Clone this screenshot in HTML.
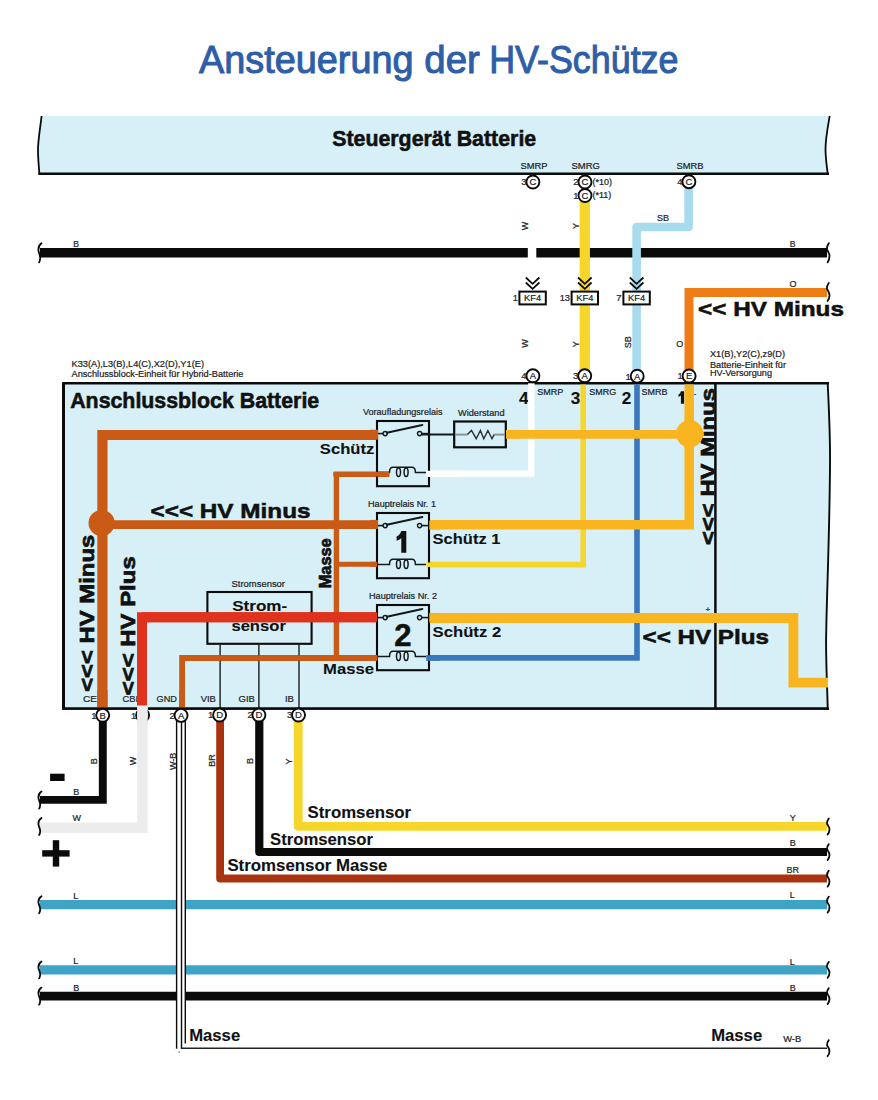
<!DOCTYPE html>
<html><head><meta charset="utf-8"><title>Ansteuerung der HV-Schütze</title>
<style>html,body{margin:0;padding:0;background:#fff;} svg{display:block;} text{font-family:"Liberation Sans", sans-serif;}</style>
</head><body>
<svg width="878" height="1100" viewBox="0 0 878 1100">
<rect x="0" y="0" width="878" height="1100" fill="#ffffff"/>
<text x="199" y="73" font-size="38" font-weight="400" fill="#2e5ea7" textLength="214.5" lengthAdjust="spacingAndGlyphs" stroke="#2e5ea7" stroke-width="1">Ansteuerung</text>
<text x="424.3" y="73" font-size="38" font-weight="400" fill="#2e5ea7" textLength="55.5" lengthAdjust="spacingAndGlyphs" stroke="#2e5ea7" stroke-width="1">der</text>
<text x="489.2" y="73" font-size="38" font-weight="400" fill="#2e5ea7" textLength="189.3" lengthAdjust="spacingAndGlyphs" stroke="#2e5ea7" stroke-width="1">HV-Schütze</text>
<path d="M41.6,116 L829.7,116 C827.2,130 825.3,140 825.5,150 C825.7,160 827,167 827.8,173.8 L39.4,173.8 C39,167 38,160 38,150 C38,140 40,130 41.6,116 Z" fill="#d7f0f8"/>
<path d="M41.6,116 C40,130 38,140 38,150 C38,160 39,167 39.4,174.8" stroke="#0b0b0b" stroke-width="1.8" fill="none" stroke-linejoin="miter" stroke-linecap="butt"/>
<path d="M829.7,116 C827.2,130 825.3,140 825.5,150 C825.7,160 827,167 827.8,174.8" stroke="#0b0b0b" stroke-width="1.8" fill="none" stroke-linejoin="miter" stroke-linecap="butt"/>
<line x1="38.5" y1="173.8" x2="829" y2="173.8" stroke="#0b0b0b" stroke-width="2.4" stroke-linecap="butt"/>
<text x="332.2" y="145.6" font-size="21.2" font-weight="700" fill="#111" stroke="#111" stroke-width="0.55" textLength="204" lengthAdjust="spacingAndGlyphs" >Steuergerät Batterie</text>
<text x="520.5" y="169" font-size="9.2" font-weight="400" fill="#1e2326" stroke="#1e2326" stroke-width="0.22" textLength="27" lengthAdjust="spacingAndGlyphs" >SMRP</text>
<text x="571.5" y="169" font-size="9.2" font-weight="400" fill="#1e2326" stroke="#1e2326" stroke-width="0.22" textLength="28.5" lengthAdjust="spacingAndGlyphs" >SMRG</text>
<text x="676.5" y="169.4" font-size="9.2" font-weight="400" fill="#1e2326" stroke="#1e2326" stroke-width="0.22" textLength="27" lengthAdjust="spacingAndGlyphs" >SMRB</text>
<line x1="40" y1="252.8" x2="527.8" y2="252.8" stroke="#0b0b0b" stroke-width="9.5" stroke-linecap="butt"/>
<line x1="536.3" y1="252.8" x2="827" y2="252.8" stroke="#0b0b0b" stroke-width="9.5" stroke-linecap="butt"/>
<path d="M41.5,243.3 C39.5,244.72500000000002 38.3,247.10000000000002 38.4,249.95000000000002 C38.5,252.8 40.3,255.175 40.2,258.02500000000003 C40.1,260.40000000000003 39.6,261.825 39.1,262.3" stroke="#0b0b0b" stroke-width="1.8" fill="none" stroke-linejoin="miter" stroke-linecap="round"/>
<path d="M828.8,243.3 C827.4,245.20000000000002 826.8,247.10000000000002 827.0,249.47500000000002 C828.2,251.85000000000002 829.6,253.75 829.5,256.125 C829.4,259.45 828.4,261.35 827.6,262.3" stroke="#0b0b0b" stroke-width="1.8" fill="none" stroke-linejoin="miter" stroke-linecap="round"/>
<text x="73.3" y="246.8" font-size="8.6" font-weight="400" fill="#1e2326" stroke="#1e2326" stroke-width="0.22" >B</text>
<text x="789.8" y="246.8" font-size="8.6" font-weight="400" fill="#1e2326" stroke="#1e2326" stroke-width="0.22" >B</text>
<line x1="584.8" y1="196" x2="584.8" y2="384" stroke="#f7d62b" stroke-width="10.3" stroke-linecap="butt"/>
<path d="M688.6,186 V227 H636.6 V384" stroke="#a8dcec" stroke-width="8.6" fill="none" stroke-linejoin="round" stroke-linecap="butt"/>
<path d="M689,384 V292.5 H827" stroke="#ef7d16" stroke-width="9" fill="none" stroke-linejoin="miter" stroke-linecap="butt"/>
<path d="M828.8,283 C827.4,284.8 826.8,286.6 827.0,288.85 C828.2,291.1 829.6,292.9 829.5,295.15 C829.4,298.3 828.4,300.1 827.6,301" stroke="#0b0b0b" stroke-width="1.8" fill="none" stroke-linejoin="miter" stroke-linecap="round"/>
<text x="789.5" y="286.5" font-size="9" font-weight="400" fill="#1e2326" stroke="#1e2326" stroke-width="0.22" >O</text>
<text x="657" y="221.2" font-size="9" font-weight="400" fill="#1e2326" stroke="#1e2326" stroke-width="0.22" >SB</text>
<text transform="translate(524.5,226) rotate(-90)" x="0" y="0" font-size="9" font-weight="400" fill="#1e2326" text-anchor="middle" dominant-baseline="central" stroke="#1e2326" stroke-width="0.22">W</text>
<text transform="translate(575.8,226) rotate(-90)" x="0" y="0" font-size="9" font-weight="400" fill="#1e2326" text-anchor="middle" dominant-baseline="central" stroke="#1e2326" stroke-width="0.22">Y</text>
<text transform="translate(524.5,343.6) rotate(-90)" x="0" y="0" font-size="9" font-weight="400" fill="#1e2326" text-anchor="middle" dominant-baseline="central" stroke="#1e2326" stroke-width="0.22">W</text>
<text transform="translate(575.8,344.2) rotate(-90)" x="0" y="0" font-size="9" font-weight="400" fill="#1e2326" text-anchor="middle" dominant-baseline="central" stroke="#1e2326" stroke-width="0.22">Y</text>
<text transform="translate(628.2,342.2) rotate(-90)" x="0" y="0" font-size="9" font-weight="400" fill="#1e2326" text-anchor="middle" dominant-baseline="central" stroke="#1e2326" stroke-width="0.22">SB</text>
<text x="676.2" y="346.6" font-size="9" font-weight="400" fill="#1e2326" stroke="#1e2326" stroke-width="0.22" >O</text>
<rect x="519.4" y="291.6" width="26.4" height="12.8" fill="#fff" stroke="#0b0b0b" stroke-width="2"/>
<text x="532.6" y="301" font-size="9.3" font-weight="400" fill="#1e2326" stroke="#1e2326" stroke-width="0.22" text-anchor="middle">KF4</text>
<text x="518" y="301" font-size="9.3" font-weight="400" fill="#1e2326" stroke="#1e2326" stroke-width="0.22" text-anchor="end">1</text>
<path d="M525.8000000000001,277.5 L532.6,283.8 L539.4,277.5 M525.8000000000001,282.5 L532.6,288.8 L539.4,282.5" stroke="#0b0b0b" stroke-width="1.8" fill="none" stroke-linejoin="miter" stroke-linecap="butt"/>
<rect x="571.5999999999999" y="291.6" width="26.4" height="12.8" fill="#fff" stroke="#0b0b0b" stroke-width="2"/>
<text x="584.8" y="301" font-size="9.3" font-weight="400" fill="#1e2326" stroke="#1e2326" stroke-width="0.22" text-anchor="middle">KF4</text>
<text x="570" y="301" font-size="9.3" font-weight="400" fill="#1e2326" stroke="#1e2326" stroke-width="0.22" text-anchor="end">13</text>
<path d="M578.0,277.5 L584.8,283.8 L591.5999999999999,277.5 M578.0,282.5 L584.8,288.8 L591.5999999999999,282.5" stroke="#0b0b0b" stroke-width="1.8" fill="none" stroke-linejoin="miter" stroke-linecap="butt"/>
<rect x="623.4" y="291.6" width="26.4" height="12.8" fill="#fff" stroke="#0b0b0b" stroke-width="2"/>
<text x="636.6" y="301" font-size="9.3" font-weight="400" fill="#1e2326" stroke="#1e2326" stroke-width="0.22" text-anchor="middle">KF4</text>
<text x="621.5" y="301" font-size="9.3" font-weight="400" fill="#1e2326" stroke="#1e2326" stroke-width="0.22" text-anchor="end">7</text>
<path d="M629.8000000000001,277.5 L636.6,283.8 L643.4,277.5 M629.8000000000001,282.5 L636.6,288.8 L643.4,282.5" stroke="#0b0b0b" stroke-width="1.8" fill="none" stroke-linejoin="miter" stroke-linecap="butt"/>
<circle cx="532.9" cy="182" r="6.5" fill="#fff" stroke="#0b0b0b" stroke-width="1.9"/>
<text x="532.9" y="185.4" font-size="9.5" font-weight="400" fill="#1e2326" stroke="#1e2326" stroke-width="0.22" text-anchor="middle">C</text>
<text x="526.5" y="185.4" font-size="9.5" font-weight="400" fill="#1e2326" stroke="#1e2326" stroke-width="0.22" text-anchor="end">3</text>
<circle cx="585" cy="182" r="6.5" fill="#fff" stroke="#0b0b0b" stroke-width="1.9"/>
<text x="585" y="185.4" font-size="9.5" font-weight="400" fill="#1e2326" stroke="#1e2326" stroke-width="0.22" text-anchor="middle">C</text>
<text x="578.6" y="185.4" font-size="9.5" font-weight="400" fill="#1e2326" stroke="#1e2326" stroke-width="0.22" text-anchor="end">2</text>
<circle cx="585" cy="195.5" r="6.5" fill="#fff" stroke="#0b0b0b" stroke-width="1.9"/>
<text x="585" y="198.9" font-size="9.5" font-weight="400" fill="#1e2326" stroke="#1e2326" stroke-width="0.22" text-anchor="middle">C</text>
<text x="578.6" y="198.9" font-size="9.5" font-weight="400" fill="#1e2326" stroke="#1e2326" stroke-width="0.22" text-anchor="end">1</text>
<circle cx="688.9" cy="181.7" r="6.5" fill="#fff" stroke="#0b0b0b" stroke-width="1.9"/>
<text x="688.9" y="185.1" font-size="9.5" font-weight="400" fill="#1e2326" stroke="#1e2326" stroke-width="0.22" text-anchor="middle">C</text>
<text x="682.5" y="185.1" font-size="9.5" font-weight="400" fill="#1e2326" stroke="#1e2326" stroke-width="0.22" text-anchor="end">4</text>
<text x="592.5" y="184.6" font-size="9" font-weight="400" fill="#1e2326" stroke="#1e2326" stroke-width="0.22" >(*10)</text>
<text x="592.5" y="198.2" font-size="9" font-weight="400" fill="#1e2326" stroke="#1e2326" stroke-width="0.22" >(*11)</text>
<text x="71.5" y="367.1" font-size="9.2" font-weight="400" fill="#1e2326" stroke="#1e2326" stroke-width="0.22" textLength="132.5" lengthAdjust="spacingAndGlyphs" >K33(A),L3(B),L4(C),X2(D),Y1(E)</text>
<text x="71.5" y="376.9" font-size="9.2" font-weight="400" fill="#1e2326" stroke="#1e2326" stroke-width="0.22" textLength="172" lengthAdjust="spacingAndGlyphs" >Anschlussblock-Einheit für Hybrid-Batterie</text>
<text x="710" y="356.5" font-size="9" font-weight="400" fill="#1e2326" stroke="#1e2326" stroke-width="0.22" textLength="75" lengthAdjust="spacingAndGlyphs" >X1(B),Y2(C),z9(D)</text>
<text x="710" y="367.9" font-size="9" font-weight="400" fill="#1e2326" stroke="#1e2326" stroke-width="0.22" textLength="76" lengthAdjust="spacingAndGlyphs" >Batterie-Einheit für</text>
<text x="710" y="375.9" font-size="9" font-weight="400" fill="#1e2326" stroke="#1e2326" stroke-width="0.22" textLength="62" lengthAdjust="spacingAndGlyphs" >HV-Versorgung</text>
<text x="698" y="315.9" font-size="21" font-weight="700" fill="#111" stroke="#111" stroke-width="0.55" textLength="146" lengthAdjust="spacingAndGlyphs" >&lt;&lt; HV Minus</text>
<path d="M63.5,383.3 L827.7,383.3 C829.5,420 830.2,450 830,465 C829.5,540 826.5,600 826.1,640 C826,670 827.5,690 827.7,708.7 L63.5,708.7 Z" fill="#d7f0f8"/>
<line x1="62.2" y1="383.3" x2="829" y2="383.3" stroke="#0b0b0b" stroke-width="2.5" stroke-linecap="butt"/>
<line x1="62.2" y1="708.7" x2="829" y2="708.7" stroke="#0b0b0b" stroke-width="2.3" stroke-linecap="butt"/>
<line x1="63.5" y1="383.3" x2="63.5" y2="708.7" stroke="#0b0b0b" stroke-width="3" stroke-linecap="butt"/>
<path d="M827.7,383.3 C829.5,420 830.2,450 830,465 C829.5,540 826.5,600 826.1,640 C826,670 827.5,690 827.7,709.8" stroke="#0b0b0b" stroke-width="1.9" fill="none" stroke-linejoin="miter" stroke-linecap="butt"/>
<line x1="715.4" y1="383.3" x2="715.4" y2="708.7" stroke="#0b0b0b" stroke-width="2.5" stroke-linecap="butt"/>
<text x="70.2" y="407.6" font-size="21.2" font-weight="700" fill="#111" stroke="#111" stroke-width="0.55" textLength="249" lengthAdjust="spacingAndGlyphs" >Anschlussblock Batterie</text>
<text x="519" y="403.8" font-size="17.2" font-weight="700" fill="#111" stroke="#111" stroke-width="0.1" >4</text>
<text x="570.8" y="403.8" font-size="17.2" font-weight="700" fill="#111" stroke="#111" stroke-width="0.1" >3</text>
<text x="621.8" y="403.8" font-size="17.2" font-weight="700" fill="#111" stroke="#111" stroke-width="0.1" >2</text>
<path d="M680.9,391.2 H684.1 V403.8 H680.9 V395.6 C680.2,396.2 679.4,396.6 678.5,396.9 V394.5 C679.6,394.1 680.4,393 680.9,391.2 Z" fill="#111"/>
<text x="537.3" y="395.2" font-size="8.8" font-weight="400" fill="#1e2326" stroke="#1e2326" stroke-width="0.22" textLength="26" lengthAdjust="spacingAndGlyphs" >SMRP</text>
<text x="589.3" y="395.2" font-size="8.8" font-weight="400" fill="#1e2326" stroke="#1e2326" stroke-width="0.22" textLength="27" lengthAdjust="spacingAndGlyphs" >SMRG</text>
<text x="641.5" y="395.2" font-size="8.8" font-weight="400" fill="#1e2326" stroke="#1e2326" stroke-width="0.22" textLength="26" lengthAdjust="spacingAndGlyphs" >SMRB</text>
<text x="693.5" y="396" font-size="8" font-weight="400" fill="#1e2326" stroke="#1e2326" stroke-width="0.22" >-</text>
<text x="705.5" y="612" font-size="8" font-weight="400" fill="#1e2326" stroke="#1e2326" stroke-width="0.22" >+</text>
<path d="M531.3,383.3 V473.6 H426.3" stroke="#ffffff" stroke-width="6.4" fill="none" stroke-linejoin="miter" stroke-linecap="butt"/>
<path d="M583.2,384.5 V564.6 H426.6" stroke="#f7d62b" stroke-width="5.6" fill="none" stroke-linejoin="miter" stroke-linecap="butt"/>
<path d="M637,384.5 V657.9 H426.4" stroke="#3a78bd" stroke-width="5.6" fill="none" stroke-linejoin="miter" stroke-linecap="butt"/>
<path d="M689.2,384.5 V524.8 H429.3" stroke="#f9b520" stroke-width="9.5" fill="none" stroke-linejoin="miter" stroke-linecap="butt"/>
<line x1="507" y1="434.3" x2="689.2" y2="434.3" stroke="#f9b520" stroke-width="8.8" stroke-linecap="butt"/>
<circle cx="689.7" cy="433.7" r="13.5" fill="#f9b520"/>
<path d="M429.3,618 H793.4 V682.6 H828" stroke="#f9b520" stroke-width="9.8" fill="none" stroke-linejoin="miter" stroke-linecap="butt"/>
<path d="M102.4,709 V435 H378" stroke="#c95b16" stroke-width="10.2" fill="none" stroke-linejoin="miter" stroke-linecap="butt"/>
<line x1="102.4" y1="524.6" x2="377" y2="524.6" stroke="#c95b16" stroke-width="8.8" stroke-linecap="butt"/>
<circle cx="101.6" cy="523" r="13.1" fill="#c95b16"/>
<path d="M389.3,474.3 H336.4 V658 " stroke="#c95b16" stroke-width="5.4" fill="none" stroke-linejoin="miter" stroke-linecap="butt"/>
<line x1="336.4" y1="564.3" x2="377" y2="564.3" stroke="#c95b16" stroke-width="5" stroke-linecap="butt"/>
<path d="M377,658 H182.1 V709" stroke="#c95b16" stroke-width="5.8" fill="none" stroke-linejoin="miter" stroke-linecap="butt"/>
<path d="M142,705.5 V617.3 H377" stroke="#e0331d" stroke-width="10" fill="none" stroke-linejoin="miter" stroke-linecap="butt"/>
<text transform="translate(86.3,613.3) rotate(-90)" x="0" y="0" font-size="21" font-weight="700" fill="#111" text-anchor="middle" dominant-baseline="central" stroke="#111" stroke-width="0.7" textLength="157" lengthAdjust="spacingAndGlyphs">&lt;&lt;&lt; HV Minus</text>
<text transform="translate(127.6,625.8) rotate(-90)" x="0" y="0" font-size="21" font-weight="700" fill="#111" text-anchor="middle" dominant-baseline="central" stroke="#111" stroke-width="0.7" textLength="139" lengthAdjust="spacingAndGlyphs">&lt;&lt;&lt; HV Plus</text>
<text transform="translate(325.4,563.3) rotate(-90)" x="0" y="0" font-size="15.8" font-weight="700" fill="#111" text-anchor="middle" dominant-baseline="central" stroke="#111" stroke-width="0.7" textLength="50" lengthAdjust="spacingAndGlyphs">Masse</text>
<text x="642.5" y="644.4" font-size="21" font-weight="700" fill="#111" stroke="#111" stroke-width="0.55" textLength="126.5" lengthAdjust="spacingAndGlyphs" >&lt;&lt; HV Plus</text>
<text x="150.5" y="518.1" font-size="21" font-weight="700" fill="#111" stroke="#111" stroke-width="0.55" textLength="160" lengthAdjust="spacingAndGlyphs" >&lt;&lt;&lt; HV Minus</text>
<text x="319.8" y="453.7" font-size="15.4" font-weight="700" fill="#111" stroke="#111" stroke-width="0.1" textLength="54.5" lengthAdjust="spacingAndGlyphs" >Schütz</text>
<text x="432.6" y="543.5" font-size="15.4" font-weight="700" fill="#111" stroke="#111" stroke-width="0.1" textLength="67.8" lengthAdjust="spacingAndGlyphs" >Schütz 1</text>
<text x="432.6" y="636.7" font-size="15.4" font-weight="700" fill="#111" stroke="#111" stroke-width="0.1" textLength="68.6" lengthAdjust="spacingAndGlyphs" >Schütz 2</text>
<text x="323" y="673.5" font-size="15" font-weight="700" fill="#111" stroke="#111" stroke-width="0.1" textLength="51" lengthAdjust="spacingAndGlyphs" >Masse</text>
<clipPath id="cp1"><rect x="690" y="383" width="24.5" height="200"/></clipPath>
<g clip-path="url(#cp1)">
<text transform="translate(707.5,466.5) rotate(-90)" x="0" y="0" font-size="21" font-weight="700" fill="#111" text-anchor="middle" dominant-baseline="central" stroke="#111" stroke-width="0.7" textLength="157" lengthAdjust="spacingAndGlyphs">&lt;&lt;&lt; HV Minus</text>
</g>
<circle cx="689.7" cy="433.7" r="13.5" fill="#f9b520"/>
<line x1="689.2" y1="420" x2="689.2" y2="448" stroke="#f9b520" stroke-width="9.5" stroke-linecap="butt"/>
<rect x="377" y="421" width="52" height="65.2" fill="none" stroke="#0b0b0b" stroke-width="2.1"/>
<text x="363" y="415" font-size="9" font-weight="400" fill="#1e2326" stroke="#1e2326" stroke-width="0.22" textLength="79.5" lengthAdjust="spacingAndGlyphs" >Voraufladungsrelais</text>
<line x1="377" y1="433.6" x2="383" y2="433.6" stroke="#16191b" stroke-width="1.6" stroke-linecap="butt"/>
<line x1="421.8" y1="433.6" x2="429" y2="433.6" stroke="#16191b" stroke-width="1.6" stroke-linecap="butt"/>
<circle cx="385.2" cy="433.6" r="2.1" fill="#d7f0f8" stroke="#16191b" stroke-width="1.4"/>
<circle cx="419.6" cy="433.6" r="2.1" fill="#d7f0f8" stroke="#16191b" stroke-width="1.4"/>
<line x1="386.8" y1="432.70000000000005" x2="422.3" y2="425.0" stroke="#16191b" stroke-width="2.1" stroke-linecap="round"/>
<path d="M377,472.4 H389.5 C389.5,468.9 390.5,467.29999999999995 393,467.29999999999995 H411.8 C414.2,467.29999999999995 415.4,468.9 415.4,472.4 H426" stroke="#16191b" stroke-width="1.5" fill="none" stroke-linejoin="miter" stroke-linecap="butt"/>
<ellipse cx="398.5" cy="472.29999999999995" rx="2" ry="4.2" fill="none" stroke="#16191b" stroke-width="1.5"/>
<ellipse cx="406.1" cy="472.29999999999995" rx="2" ry="4.2" fill="none" stroke="#16191b" stroke-width="1.5"/>
<rect x="377" y="513" width="52" height="65.2" fill="none" stroke="#0b0b0b" stroke-width="2.1"/>
<text x="368" y="507" font-size="9" font-weight="400" fill="#1e2326" stroke="#1e2326" stroke-width="0.22" textLength="68" lengthAdjust="spacingAndGlyphs" >Hauptrelais Nr. 1</text>
<line x1="377" y1="525.6" x2="383" y2="525.6" stroke="#16191b" stroke-width="1.6" stroke-linecap="butt"/>
<line x1="421.8" y1="525.6" x2="429" y2="525.6" stroke="#16191b" stroke-width="1.6" stroke-linecap="butt"/>
<circle cx="385.2" cy="525.6" r="2.1" fill="#d7f0f8" stroke="#16191b" stroke-width="1.4"/>
<circle cx="419.6" cy="525.6" r="2.1" fill="#d7f0f8" stroke="#16191b" stroke-width="1.4"/>
<line x1="386.8" y1="524.7" x2="422.3" y2="517.0" stroke="#16191b" stroke-width="2.1" stroke-linecap="round"/>
<path d="M377,564.4 H389.5 C389.5,560.9 390.5,559.3 393,559.3 H411.8 C414.2,559.3 415.4,560.9 415.4,564.4 H426" stroke="#16191b" stroke-width="1.5" fill="none" stroke-linejoin="miter" stroke-linecap="butt"/>
<ellipse cx="398.5" cy="564.3" rx="2" ry="4.2" fill="none" stroke="#16191b" stroke-width="1.5"/>
<ellipse cx="406.1" cy="564.3" rx="2" ry="4.2" fill="none" stroke="#16191b" stroke-width="1.5"/>
<path d="M401.3,530.9 H406.3 V552.8 H401.3 V538.3 C399.9,539.4 398.4,540.2 396.6,540.8 V536.4 C398.6,535.6 400.4,533.6 401.3,530.9 Z" fill="#111"/>
<rect x="377" y="605" width="52" height="65.2" fill="none" stroke="#0b0b0b" stroke-width="2.1"/>
<text x="369" y="599" font-size="9" font-weight="400" fill="#1e2326" stroke="#1e2326" stroke-width="0.22" textLength="68" lengthAdjust="spacingAndGlyphs" >Hauptrelais Nr. 2</text>
<line x1="377" y1="617.6" x2="383" y2="617.6" stroke="#16191b" stroke-width="1.6" stroke-linecap="butt"/>
<line x1="421.8" y1="617.6" x2="429" y2="617.6" stroke="#16191b" stroke-width="1.6" stroke-linecap="butt"/>
<circle cx="385.2" cy="617.6" r="2.1" fill="#d7f0f8" stroke="#16191b" stroke-width="1.4"/>
<circle cx="419.6" cy="617.6" r="2.1" fill="#d7f0f8" stroke="#16191b" stroke-width="1.4"/>
<line x1="386.8" y1="616.7" x2="422.3" y2="609.0" stroke="#16191b" stroke-width="2.1" stroke-linecap="round"/>
<path d="M377,656.4 H389.5 C389.5,652.9 390.5,651.3 393,651.3 H411.8 C414.2,651.3 415.4,652.9 415.4,656.4 H426" stroke="#16191b" stroke-width="1.5" fill="none" stroke-linejoin="miter" stroke-linecap="butt"/>
<ellipse cx="398.5" cy="656.3" rx="2" ry="4.2" fill="none" stroke="#16191b" stroke-width="1.5"/>
<ellipse cx="406.1" cy="656.3" rx="2" ry="4.2" fill="none" stroke="#16191b" stroke-width="1.5"/>
<text x="402.9" y="646.4" font-size="31" font-weight="700" fill="#111" stroke="#111" stroke-width="0.55" text-anchor="middle">2</text>
<line x1="370" y1="434.7" x2="378.2" y2="434.7" stroke="#c95b16" stroke-width="9.9" stroke-linecap="butt"/>
<line x1="333.3" y1="474.2" x2="389.3" y2="474.2" stroke="#c95b16" stroke-width="4.6" stroke-linecap="butt"/>
<line x1="426.3" y1="473.8" x2="460" y2="473.8" stroke="#ffffff" stroke-width="6.3" stroke-linecap="butt"/>
<line x1="370" y1="524.4" x2="378" y2="524.4" stroke="#c95b16" stroke-width="9" stroke-linecap="butt"/>
<line x1="429.3" y1="525.1" x2="440" y2="525.1" stroke="#f9b520" stroke-width="9.1" stroke-linecap="butt"/>
<line x1="370" y1="564.3" x2="377.2" y2="564.3" stroke="#c95b16" stroke-width="5" stroke-linecap="butt"/>
<line x1="426.6" y1="564.7" x2="440" y2="564.7" stroke="#f7d62b" stroke-width="4.6" stroke-linecap="butt"/>
<line x1="370" y1="617.1" x2="377" y2="617.1" stroke="#e0331d" stroke-width="9.6" stroke-linecap="butt"/>
<line x1="429.3" y1="617.7" x2="440" y2="617.7" stroke="#f9b520" stroke-width="9.6" stroke-linecap="butt"/>
<line x1="370" y1="658" x2="377.5" y2="658" stroke="#c95b16" stroke-width="5.5" stroke-linecap="butt"/>
<line x1="426.4" y1="658" x2="440" y2="658" stroke="#3a78bd" stroke-width="5.5" stroke-linecap="butt"/>
<line x1="421.8" y1="434.6" x2="454" y2="434.6" stroke="#16191b" stroke-width="2" stroke-linecap="butt"/>
<rect x="454.2" y="421.5" width="51.6" height="25.8" fill="none" stroke="#0b0b0b" stroke-width="2.2"/>
<line x1="455" y1="434.6" x2="467.4" y2="434.6" stroke="#8a9498" stroke-width="2" stroke-linecap="butt"/>
<line x1="494" y1="434.6" x2="505" y2="434.6" stroke="#8a9498" stroke-width="2" stroke-linecap="butt"/>
<path d="M467.4,434.6 L471.5,430.5 L476.2,438.7 L480.4,430.5 L483.8,438.7 L487.9,430.5 L492,438.7 L494,434.6" stroke="#2a3135" stroke-width="1.4" fill="none" stroke-linejoin="miter" stroke-linecap="butt"/>
<text x="458" y="415.8" font-size="9" font-weight="400" fill="#1e2326" stroke="#1e2326" stroke-width="0.22" textLength="46.5" lengthAdjust="spacingAndGlyphs" >Widerstand</text>
<line x1="506" y1="434.3" x2="520" y2="434.3" stroke="#f9b520" stroke-width="8.8" stroke-linecap="butt"/>
<rect x="207.4" y="592" width="104.2" height="51.8" fill="none" stroke="#0b0b0b" stroke-width="2.1"/>
<text x="231.5" y="586.8" font-size="9.2" font-weight="400" fill="#1e2326" stroke="#1e2326" stroke-width="0.22" textLength="53.5" lengthAdjust="spacingAndGlyphs" >Stromsensor</text>
<text x="232.2" y="611" font-size="15" font-weight="700" fill="#111" stroke="#111" stroke-width="0.1" textLength="55" lengthAdjust="spacingAndGlyphs" >Strom-</text>
<text x="231.4" y="631" font-size="15" font-weight="700" fill="#111" stroke="#111" stroke-width="0.1" textLength="54.5" lengthAdjust="spacingAndGlyphs" >sensor</text>
<line x1="220.1" y1="644.7" x2="220.1" y2="709" stroke="#0b0b0b" stroke-width="1.3" stroke-linecap="butt"/>
<line x1="258.9" y1="644.7" x2="258.9" y2="709" stroke="#0b0b0b" stroke-width="1.3" stroke-linecap="butt"/>
<line x1="299" y1="644.7" x2="299" y2="709" stroke="#0b0b0b" stroke-width="1.3" stroke-linecap="butt"/>
<line x1="142" y1="617.3" x2="376" y2="617.3" stroke="#e0331d" stroke-width="10" stroke-linecap="butt"/>
<line x1="182.1" y1="658" x2="377" y2="658" stroke="#c95b16" stroke-width="5.6" stroke-linecap="butt"/>
<text x="83" y="702.3" font-size="8.8" font-weight="400" fill="#1e2326" stroke="#1e2326" stroke-width="0.22" textLength="14" lengthAdjust="spacingAndGlyphs" >CE</text>
<text x="122.5" y="702.3" font-size="8.8" font-weight="400" fill="#1e2326" stroke="#1e2326" stroke-width="0.22" textLength="15.5" lengthAdjust="spacingAndGlyphs" >CBI</text>
<text x="156.6" y="702.3" font-size="8.8" font-weight="400" fill="#1e2326" stroke="#1e2326" stroke-width="0.22" textLength="20.3" lengthAdjust="spacingAndGlyphs" >GND</text>
<text x="200.7" y="702.3" font-size="8.8" font-weight="400" fill="#1e2326" stroke="#1e2326" stroke-width="0.22" textLength="15.2" lengthAdjust="spacingAndGlyphs" >VIB</text>
<text x="238.5" y="702.3" font-size="8.8" font-weight="400" fill="#1e2326" stroke="#1e2326" stroke-width="0.22" textLength="16.4" lengthAdjust="spacingAndGlyphs" >GIB</text>
<text x="284.9" y="702.3" font-size="8.8" font-weight="400" fill="#1e2326" stroke="#1e2326" stroke-width="0.22" textLength="9" lengthAdjust="spacingAndGlyphs" >IB</text>
<line x1="102.4" y1="690" x2="102.4" y2="709" stroke="#c95b16" stroke-width="10.4" stroke-linecap="butt"/>
<line x1="142" y1="690" x2="142" y2="705.5" stroke="#e0331d" stroke-width="10" stroke-linecap="butt"/>
<line x1="182.1" y1="690" x2="182.1" y2="709" stroke="#c95b16" stroke-width="5.8" stroke-linecap="butt"/>
<line x1="62.2" y1="708.7" x2="137" y2="708.7" stroke="#0b0b0b" stroke-width="2.3" stroke-linecap="butt"/>
<line x1="148" y1="708.7" x2="829" y2="708.7" stroke="#0b0b0b" stroke-width="2.3" stroke-linecap="butt"/>
<line x1="40" y1="904.7" x2="827" y2="904.7" stroke="#3fa3c6" stroke-width="9.3" stroke-linecap="butt"/>
<line x1="40" y1="969.9" x2="827" y2="969.9" stroke="#3fa3c6" stroke-width="9.3" stroke-linecap="butt"/>
<line x1="40" y1="996.1" x2="827" y2="996.1" stroke="#0b0b0b" stroke-width="8.8" stroke-linecap="butt"/>
<path d="M41.5,896.2 C39.5,897.475 38.3,899.6 38.4,902.1500000000001 C38.5,904.7 40.3,906.825 40.2,909.375 C40.1,911.5 39.6,912.7750000000001 39.1,913.2" stroke="#0b0b0b" stroke-width="1.8" fill="none" stroke-linejoin="miter" stroke-linecap="round"/>
<path d="M828.8,896.7 C827.4,898.3000000000001 826.8,899.9000000000001 827.0,901.9000000000001 C828.2,903.9000000000001 829.6,905.5 829.5,907.5 C829.4,910.3000000000001 828.4,911.9000000000001 827.6,912.7" stroke="#0b0b0b" stroke-width="1.8" fill="none" stroke-linejoin="miter" stroke-linecap="round"/>
<path d="M41.5,961.4 C39.5,962.675 38.3,964.8 38.4,967.35 C38.5,969.9 40.3,972.025 40.2,974.5749999999999 C40.1,976.6999999999999 39.6,977.975 39.1,978.4" stroke="#0b0b0b" stroke-width="1.8" fill="none" stroke-linejoin="miter" stroke-linecap="round"/>
<path d="M828.8,961.9 C827.4,963.5 826.8,965.1 827.0,967.1 C828.2,969.1 829.6,970.6999999999999 829.5,972.6999999999999 C829.4,975.5 828.4,977.1 827.6,977.9" stroke="#0b0b0b" stroke-width="1.8" fill="none" stroke-linejoin="miter" stroke-linecap="round"/>
<path d="M41.5,987.6 C39.5,988.875 38.3,991.0 38.4,993.5500000000001 C38.5,996.1 40.3,998.225 40.2,1000.775 C40.1,1002.9 39.6,1004.1750000000001 39.1,1004.6" stroke="#0b0b0b" stroke-width="1.8" fill="none" stroke-linejoin="miter" stroke-linecap="round"/>
<path d="M828.8,988.1 C827.4,989.7 826.8,991.3000000000001 827.0,993.3000000000001 C828.2,995.3000000000001 829.6,996.9 829.5,998.9 C829.4,1001.7 828.4,1003.3000000000001 827.6,1004.1" stroke="#0b0b0b" stroke-width="1.8" fill="none" stroke-linejoin="miter" stroke-linecap="round"/>
<path d="M102.8,720 V799.9 H40" stroke="#0b0b0b" stroke-width="7.9" fill="none" stroke-linejoin="miter" stroke-linecap="butt"/>
<path d="M41.5,791.5 C39.5,792.775 38.3,794.9 38.4,797.45 C38.5,800 40.3,802.125 40.2,804.675 C40.1,806.8 39.6,808.075 39.1,808.5" stroke="#0b0b0b" stroke-width="1.8" fill="none" stroke-linejoin="miter" stroke-linecap="round"/>
<path d="M142.4,706 V827.7 H40" stroke="#ececec" stroke-width="10.4" fill="none" stroke-linejoin="miter" stroke-linecap="butt"/>
<path d="M41.5,818.0 C39.5,819.275 38.3,821.4 38.4,823.95 C38.5,826.5 40.3,828.625 40.2,831.175 C40.1,833.3 39.6,834.575 39.1,835.0" stroke="#0b0b0b" stroke-width="1.8" fill="none" stroke-linejoin="miter" stroke-linecap="round"/>
<path d="M220.1,720 V878.5 H827" stroke="#a9340f" stroke-width="7.8" fill="none" stroke-linejoin="round" stroke-linecap="butt"/>
<path d="M259.3,720 V852 H827" stroke="#0b0b0b" stroke-width="8.2" fill="none" stroke-linejoin="round" stroke-linecap="butt"/>
<path d="M298.2,720 V826.4 H827" stroke="#f7d62b" stroke-width="8.8" fill="none" stroke-linejoin="round" stroke-linecap="butt"/>
<path d="M828.8,818.5 C827.4,820.1 826.8,821.7 827.0,823.7 C828.2,825.7 829.6,827.3 829.5,829.3 C829.4,832.1 828.4,833.7 827.6,834.5" stroke="#0b0b0b" stroke-width="1.8" fill="none" stroke-linejoin="miter" stroke-linecap="round"/>
<path d="M828.8,844.1 C827.4,845.7 826.8,847.3000000000001 827.0,849.3000000000001 C828.2,851.3000000000001 829.6,852.9 829.5,854.9 C829.4,857.7 828.4,859.3000000000001 827.6,860.1" stroke="#0b0b0b" stroke-width="1.8" fill="none" stroke-linejoin="miter" stroke-linecap="round"/>
<path d="M828.8,870.6 C827.4,872.2 826.8,873.8000000000001 827.0,875.8000000000001 C828.2,877.8000000000001 829.6,879.4 829.5,881.4 C829.4,884.2 828.4,885.8000000000001 827.6,886.6" stroke="#0b0b0b" stroke-width="1.8" fill="none" stroke-linejoin="miter" stroke-linecap="round"/>
<rect x="176.4" y="720" width="9" height="328" fill="#ffffff"/>
<line x1="176.6" y1="720" x2="176.6" y2="1048.7" stroke="#0b0b0b" stroke-width="1.4" stroke-linecap="butt"/>
<line x1="181.5" y1="720" x2="181.5" y2="1048.2" stroke="#0b0b0b" stroke-width="1.4" stroke-linecap="butt"/>
<line x1="185.3" y1="720" x2="185.3" y2="1043.6" stroke="#0b0b0b" stroke-width="1.4" stroke-linecap="butt"/>
<line x1="180.8" y1="1048.2" x2="827" y2="1048.2" stroke="#222" stroke-width="1.5" stroke-linecap="butt"/>
<path d="M828.8,1040.2 C827.4,1041.8 826.8,1043.4 827.0,1045.4 C828.2,1047.4 829.6,1049.0 829.5,1051.0 C829.4,1053.8 828.4,1055.4 827.6,1056.2" stroke="#0b0b0b" stroke-width="1.8" fill="none" stroke-linejoin="miter" stroke-linecap="round"/>
<circle cx="179.1" cy="1052" r="0.7" fill="#555"/>
<rect x="50.1" y="773.7" width="14.5" height="7.3" fill="#0b0b0b"/>
<rect x="52.8" y="840.2" width="6.4" height="26.4" fill="#0b0b0b"/>
<rect x="42.2" y="850.2" width="27.4" height="6.4" fill="#0b0b0b"/>
<text x="73.3" y="794.6" font-size="9" font-weight="400" fill="#1e2326" stroke="#1e2326" stroke-width="0.22" >B</text>
<text x="72.5" y="821.3" font-size="9" font-weight="400" fill="#1e2326" stroke="#1e2326" stroke-width="0.22" >W</text>
<text x="73.2" y="898.7" font-size="9" font-weight="400" fill="#1e2326" stroke="#1e2326" stroke-width="0.22" >L</text>
<text x="73.2" y="963.9" font-size="9" font-weight="400" fill="#1e2326" stroke="#1e2326" stroke-width="0.22" >L</text>
<text x="73.3" y="990.5" font-size="9" font-weight="400" fill="#1e2326" stroke="#1e2326" stroke-width="0.22" >B</text>
<text x="789.8" y="820.7" font-size="9" font-weight="400" fill="#1e2326" stroke="#1e2326" stroke-width="0.22" >Y</text>
<text x="789.8" y="846.4" font-size="9" font-weight="400" fill="#1e2326" stroke="#1e2326" stroke-width="0.22" >B</text>
<text x="786.6" y="872.9" font-size="9" font-weight="400" fill="#1e2326" stroke="#1e2326" stroke-width="0.22" >BR</text>
<text x="789.8" y="898.2" font-size="9" font-weight="400" fill="#1e2326" stroke="#1e2326" stroke-width="0.22" >L</text>
<text x="789.8" y="964.5" font-size="9" font-weight="400" fill="#1e2326" stroke="#1e2326" stroke-width="0.22" >L</text>
<text x="789.8" y="990.7" font-size="9" font-weight="400" fill="#1e2326" stroke="#1e2326" stroke-width="0.22" >B</text>
<text x="783.2" y="1042.3" font-size="8.6" font-weight="400" fill="#1e2326" stroke="#1e2326" stroke-width="0.22" textLength="18" lengthAdjust="spacingAndGlyphs" >W-B</text>
<text transform="translate(93.7,761.3) rotate(-90)" x="0" y="0" font-size="9" font-weight="400" fill="#1e2326" text-anchor="middle" dominant-baseline="central" stroke="#1e2326" stroke-width="0.22">B</text>
<text transform="translate(132.8,761) rotate(-90)" x="0" y="0" font-size="9" font-weight="400" fill="#1e2326" text-anchor="middle" dominant-baseline="central" stroke="#1e2326" stroke-width="0.22">W</text>
<text transform="translate(172.7,761.3) rotate(-90)" x="0" y="0" font-size="9" font-weight="400" fill="#1e2326" text-anchor="middle" dominant-baseline="central" stroke="#1e2326" stroke-width="0.22">W-B</text>
<text transform="translate(211.6,760.6) rotate(-90)" x="0" y="0" font-size="9" font-weight="400" fill="#1e2326" text-anchor="middle" dominant-baseline="central" stroke="#1e2326" stroke-width="0.22">BR</text>
<text transform="translate(250.3,761) rotate(-90)" x="0" y="0" font-size="9" font-weight="400" fill="#1e2326" text-anchor="middle" dominant-baseline="central" stroke="#1e2326" stroke-width="0.22">B</text>
<text transform="translate(289.3,761.4) rotate(-90)" x="0" y="0" font-size="9" font-weight="400" fill="#1e2326" text-anchor="middle" dominant-baseline="central" stroke="#1e2326" stroke-width="0.22">Y</text>
<text x="307.6" y="817.6" font-size="16.3" font-weight="700" fill="#111" stroke="#111" stroke-width="0.1" textLength="103.5" lengthAdjust="spacingAndGlyphs" >Stromsensor</text>
<text x="270" y="845.3" font-size="16.3" font-weight="700" fill="#111" stroke="#111" stroke-width="0.1" textLength="103" lengthAdjust="spacingAndGlyphs" >Stromsensor</text>
<text x="227.4" y="871.4" font-size="16.3" font-weight="700" fill="#111" stroke="#111" stroke-width="0.1" textLength="160" lengthAdjust="spacingAndGlyphs" >Stromsensor Masse</text>
<text x="189.2" y="1040.5" font-size="16.3" font-weight="700" fill="#111" stroke="#111" stroke-width="0.1" textLength="51" lengthAdjust="spacingAndGlyphs" >Masse</text>
<text x="711.2" y="1040.6" font-size="16.3" font-weight="700" fill="#111" stroke="#111" stroke-width="0.1" textLength="51" lengthAdjust="spacingAndGlyphs" >Masse</text>
<circle cx="532.9" cy="375.8" r="6.5" fill="#fff" stroke="#0b0b0b" stroke-width="1.9"/>
<text x="532.9" y="379.2" font-size="9.5" font-weight="400" fill="#1e2326" stroke="#1e2326" stroke-width="0.22" text-anchor="middle">A</text>
<text x="526.5" y="379.2" font-size="9.5" font-weight="400" fill="#1e2326" stroke="#1e2326" stroke-width="0.22" text-anchor="end">4</text>
<circle cx="584.7" cy="375.8" r="6.5" fill="#fff" stroke="#0b0b0b" stroke-width="1.9"/>
<text x="584.7" y="379.2" font-size="9.5" font-weight="400" fill="#1e2326" stroke="#1e2326" stroke-width="0.22" text-anchor="middle">A</text>
<text x="578.3" y="379.2" font-size="9.5" font-weight="400" fill="#1e2326" stroke="#1e2326" stroke-width="0.22" text-anchor="end">3</text>
<circle cx="637.2" cy="376.2" r="6.5" fill="#fff" stroke="#0b0b0b" stroke-width="1.9"/>
<text x="637.2" y="379.59999999999997" font-size="9.5" font-weight="400" fill="#1e2326" stroke="#1e2326" stroke-width="0.22" text-anchor="middle">A</text>
<text x="630.8" y="379.59999999999997" font-size="9.5" font-weight="400" fill="#1e2326" stroke="#1e2326" stroke-width="0.22" text-anchor="end">1</text>
<circle cx="689.1" cy="376" r="6.5" fill="#fff" stroke="#0b0b0b" stroke-width="1.9"/>
<text x="689.1" y="379.4" font-size="9.5" font-weight="400" fill="#1e2326" stroke="#1e2326" stroke-width="0.22" text-anchor="middle">E</text>
<text x="682.7" y="379.4" font-size="9.5" font-weight="400" fill="#1e2326" stroke="#1e2326" stroke-width="0.22" text-anchor="end">1</text>
<circle cx="102.7" cy="715.3" r="6.5" fill="#fff" stroke="#0b0b0b" stroke-width="1.9"/>
<text x="102.7" y="718.6999999999999" font-size="9.5" font-weight="400" fill="#1e2326" stroke="#1e2326" stroke-width="0.22" text-anchor="middle">B</text>
<text x="96.5" y="718.6999999999999" font-size="9.5" font-weight="400" fill="#1e2326" stroke="#1e2326" stroke-width="0.22" text-anchor="end">1</text>
<circle cx="142.6" cy="715.3" r="6.5" fill="#fff" stroke="#0b0b0b" stroke-width="1.9"/>
<text x="142.6" y="718.6999999999999" font-size="9.5" font-weight="400" fill="#1e2326" stroke="#1e2326" stroke-width="0.22" text-anchor="middle">A</text>
<text x="136.4" y="718.6999999999999" font-size="9.5" font-weight="400" fill="#1e2326" stroke="#1e2326" stroke-width="0.22" text-anchor="end">1</text>
<circle cx="181.05" cy="715.4" r="6.5" fill="#fff" stroke="#0b0b0b" stroke-width="1.9"/>
<text x="181.05" y="718.8" font-size="9.5" font-weight="400" fill="#1e2326" stroke="#1e2326" stroke-width="0.22" text-anchor="middle">A</text>
<text x="174.8" y="718.8" font-size="9.5" font-weight="400" fill="#1e2326" stroke="#1e2326" stroke-width="0.22" text-anchor="end">2</text>
<circle cx="219.6" cy="715" r="6.5" fill="#fff" stroke="#0b0b0b" stroke-width="1.9"/>
<text x="219.6" y="718.4" font-size="9.5" font-weight="400" fill="#1e2326" stroke="#1e2326" stroke-width="0.22" text-anchor="middle">D</text>
<text x="213.4" y="718.4" font-size="9.5" font-weight="400" fill="#1e2326" stroke="#1e2326" stroke-width="0.22" text-anchor="end">1</text>
<circle cx="258.9" cy="715" r="6.5" fill="#fff" stroke="#0b0b0b" stroke-width="1.9"/>
<text x="258.9" y="718.4" font-size="9.5" font-weight="400" fill="#1e2326" stroke="#1e2326" stroke-width="0.22" text-anchor="middle">D</text>
<text x="252.7" y="718.4" font-size="9.5" font-weight="400" fill="#1e2326" stroke="#1e2326" stroke-width="0.22" text-anchor="end">2</text>
<circle cx="298.5" cy="715" r="6.5" fill="#fff" stroke="#0b0b0b" stroke-width="1.9"/>
<text x="298.5" y="718.4" font-size="9.5" font-weight="400" fill="#1e2326" stroke="#1e2326" stroke-width="0.22" text-anchor="middle">D</text>
<text x="292.3" y="718.4" font-size="9.5" font-weight="400" fill="#1e2326" stroke="#1e2326" stroke-width="0.22" text-anchor="end">3</text>
<line x1="142.4" y1="705.6" x2="142.4" y2="725" stroke="#ececec" stroke-width="10.6" stroke-linecap="butt"/>
</svg>
</body></html>
